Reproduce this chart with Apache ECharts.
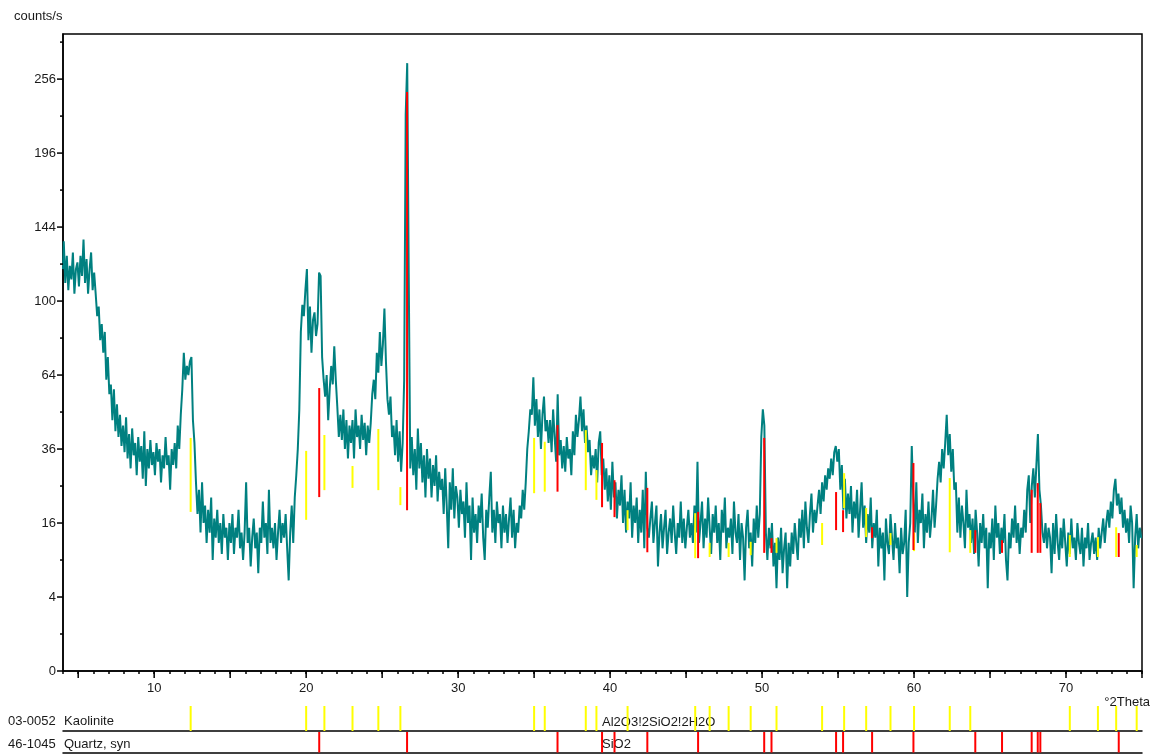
<!DOCTYPE html>
<html>
<head>
<meta charset="utf-8">
<title>XRD pattern</title>
<script src="https://cdn.jsdelivr.net/npm/echarts@6/dist/echarts.min.js"></script>
<style>
  html, body { margin: 0; padding: 0; background: #fff; }
  #chart { width: 1152px; height: 755px; }
</style>
</head>
<body>
<div id="chart"></div>
<script>
// Scan grid (°2Theta): start angle and step size
const scanStart = 4.0;
const scanStep = 0.1;

// Measured intensity, counts/s, one value per step from 4.0 to 75.0 °2Theta
const counts = [
  118,135,110,126,106,120,112,128,104,118,
  122,108,126,114,136,110,124,104,118,128,
  106,116,104,92,97,80,88,74,84,62,
  72,56,60,46,58,42,52,40,48,37,
  44,35,47,33,41,30,43,34,38,28,
  40,32,37,27,42,25,36,30,39,31,
  35,28,38,32,36,26,34,30,40,31,
  34,24,36,31,38,30,44,36,48,58,
  74,62,68,64,70,72,46,38,26,18,
  24,14,26,16,20,12,19,14,22,9,
  17,13,19,12,16,10,18,13,15,9,
  16,12,18,10,15,13,19,11,14,9,
  14,26,12,15,8,13,17,11,14,7,
  15,12,21,13,16,10,24,12,15,11,
  16,9,14,19,12,16,13,18,11,6,
  14,20,12,22,28,36,50,84,98,92,
  106,118,80,97,74,90,94,82,88,116,
  114,72,62,55,64,46,58,68,60,77,
  62,51,40,48,39,50,36,46,33,44,
  38,46,33,50,40,44,36,48,39,45,
  34,44,38,45,56,62,54,74,65,84,
  68,78,96,70,54,48,55,40,44,34,
  46,32,42,29,38,62,226,270,115,30,
  40,28,36,24,43,30,38,26,34,22,
  36,27,33,22,31,25,34,21,29,24,
  27,18,30,20,11,26,19,30,17,25,
  22,15,24,18,21,13,26,16,20,9,
  22,14,18,12,20,16,23,13,9,19,
  15,22,29,14,19,12,21,16,18,11,
  20,14,18,12,17,22,13,19,11,16,
  14,20,17,24,19,26,36,42,50,48,
  63,44,54,40,50,36,48,55,42,46,
  38,46,35,50,40,32,56,34,39,30,
  37,29,40,33,36,28,42,34,48,40,
  46,55,42,50,38,44,35,39,28,34,
  30,36,26,38,42,28,33,24,30,21,
  28,19,32,22,26,17,24,20,28,16,
  24,14,21,17,26,13,20,16,22,12,
  19,14,24,11,29,15,13,17,21,12,
  16,20,8,14,18,11,15,19,10,14,
  17,12,20,14,10,16,13,21,12,17,
  11,15,19,13,16,12,20,14,32,12,
  16,21,11,17,13,22,15,10,18,14,
  20,12,16,9,19,14,22,11,15,13,
  17,10,21,14,12,18,9,16,13,6,
  15,19,11,14,8,17,12,20,13,18,
  40,50,44,14,9,15,11,16,8,12,
  5,13,9,15,7,11,14,5,12,8,
  14,10,16,12,9,17,13,19,11,21,
  15,12,18,23,14,19,16,20,24,18,
  26,21,28,24,30,27,33,28,35,37,
  32,36,24,31,19,27,17,23,18,25,
  14,21,17,24,13,19,26,15,20,12,
  18,14,22,11,16,13,19,8,15,11,
  14,6,17,12,10,18,13,9,16,11,
  13,7,15,10,12,19,4,12,16,37,
  22,14,26,12,19,16,23,11,18,14,
  21,13,17,24,15,20,27,32,26,36,
  30,38,48,34,41,29,36,24,26,14,
  22,13,20,16,11,24,15,18,12,17,
  10,19,14,8,16,12,18,11,15,5,
  14,11,17,9,20,13,16,10,15,12,
  18,9,6,14,11,17,13,20,12,16,
  10,15,13,19,14,24,28,16,25,30,
  22,31,41,24,20,14,12,16,11,15,
  13,7,16,10,18,12,9,15,11,17,
  12,8,14,10,17,11,13,9,16,12,
  10,15,8,13,11,16,9,12,14,10,
  13,9,15,11,14,17,12,16,19,15,
  21,17,24,27,20,23,18,22,15,19,
  14,17,12,20,16,5,13,18,11,15,
  13
];

// Reference pattern 03-0052 Kaolinite: line positions (°2Theta)
const kaoliniteLines = [12.4, 20.0, 21.2, 23.05, 24.75, 26.2, 35.0, 35.7, 38.4, 39.1, 41.15,
  45.6, 46.55, 47.8, 49.25, 50.95, 53.95, 55.4, 56.85, 58.45, 60.0, 62.35, 63.7,
  70.25, 72.1, 73.3, 74.65];
// Reference pattern 46-1045 Quartz, syn: line positions (°2Theta)
const quartzLines = [20.86, 26.64, 36.54, 39.47, 40.29, 42.45, 45.79, 50.14, 50.62, 54.87,
  55.33, 57.24, 59.96, 64.03, 65.79, 67.74, 68.14, 68.31, 73.47];

// Stick markers in the scan: [°2Theta, from counts, to counts]
const kaoliniteSticks = [
  [12.4, 18.5, 39.7], [20.0, 16.7, 35.4], [21.2, 23.9, 40.7], [23.05, 24.5, 30.7],
  [24.75, 23.9, 42.8], [26.2, 20.1, 24.7], [35.0, 23.1, 39.7], [35.7, 23.5, 38.4],
  [38.4, 23.9, 42.4], [39.1, 21.4, 29.5], [41.15, 14.5, 18.9], [45.6, 9.3, 18.2],
  [46.55, 9.5, 12], [47.8, 9.5, 12], [49.25, 9.8, 12.2], [50.95, 10.2, 12.9],
  [53.95, 11.6, 16], [55.4, 19.4, 28.6], [56.85, 13.1, 19.4], [58.45, 11.6, 13.9],
  [60.0, 10.5, 14], [62.35, 10.3, 27.2], [63.7, 10.2, 14.5], [70.25, 9.5, 13.5],
  [72.1, 9.5, 13.1], [73.3, 9.5, 15.1], [74.65, 9.5, 11.6]
];
const quartzSticks = [
  [20.86, 22.1, 58.5], [26.64, 18.9, 245], [36.54, 23.5, 44.2], [39.47, 19.6, 38],
  [40.29, 17.3, 26.6], [42.45, 10.3, 24.5], [45.79, 9.3, 18.5], [50.14, 10.2, 39.7],
  [50.62, 10.2, 12.9], [54.87, 14.5, 23.4], [55.33, 14.1, 18.9], [57.24, 12.9, 15.1],
  [59.96, 10.7, 31.6], [64.03, 10.2, 14.5], [65.79, 10.2, 12.5], [67.74, 10.2, 24],
  [68.14, 10.2, 25.8], [68.31, 10.2, 20.6], [73.47, 9.5, 13.9]
];

// Axis ticks and labels
const xRange = [4, 75];
const xMajorTicks = [5, 10, 15, 20, 25, 30, 35, 40, 45, 50, 55, 60, 65, 70, 75];
const yLabelCounts = [0, 4, 16, 36, 64, 100, 144, 196, 256];
const yTickRoots = [0, 1, 2, 3, 4, 5, 6, 7, 8, 9, 10, 11, 12, 13, 14, 15, 16, 17];
const yTopCounts = 296.5;

const FONT = "'Liberation Sans', Arial, sans-serif";
const TXT = '#1a1a1a';
const FS = 13;

const chart = echarts.init(document.getElementById('chart'), null, { renderer: 'canvas' });

// Intensity axis uses a square-root scale: plot sqrt(counts), label with counts
const scanData = counts.map((c, i) => [+(scanStart + i * scanStep).toFixed(2), Math.sqrt(c)]);

function stickSeries(data, color) {
  return {
    type: 'custom', xAxisIndex: 0, yAxisIndex: 0, clip: false, z: 5,
    data: data,
    renderItem: function (params, api) {
      const x = api.value(0);
      const a = api.coord([x, Math.sqrt(api.value(1))]);
      const b = api.coord([x, Math.sqrt(api.value(2))]);
      return { type: 'line', shape: { x1: a[0], y1: a[1], x2: b[0], y2: b[1] },
               style: { stroke: color, lineWidth: 2 } };
    }
  };
}

function patternSeries(lines, color, idx) {
  return {
    type: 'custom', xAxisIndex: idx, yAxisIndex: idx, clip: false,
    data: lines.map(v => [v]),
    renderItem: function (params, api) {
      const x = api.value(0);
      const a = api.coord([x, 0]);
      const b = api.coord([x, 1]);
      return { type: 'line', shape: { x1: a[0], y1: a[1], x2: b[0], y2: b[1] },
               style: { stroke: color, lineWidth: 2 } };
    }
  };
}

const option = {
  animation: false,
  backgroundColor: '#ffffff',
  grid: [
    { left: 63, top: 34, width: 1079, height: 637, show: true, borderColor: '#000', borderWidth: 1.5, backgroundColor: '#fff' },
    { left: 63, top: 706, width: 1079, height: 25 },
    { left: 63, top: 732, width: 1079, height: 20.5 }
  ],
  xAxis: [
    {
      gridIndex: 0, type: 'value', min: xRange[0], max: xRange[1], interval: 1,
      axisLine: { show: true, lineStyle: { color: '#000', width: 1.5 } },
      axisTick: { show: true, length: 3, lineStyle: { color: '#000', width: 1.5 } },
      splitLine: { show: false },
      axisLabel: {
        margin: 11, color: TXT, fontFamily: FONT, fontSize: FS,
        formatter: v => (v % 10 === 0 ? String(v) : '')
      }
    },
    {
      gridIndex: 1, type: 'value', min: xRange[0], max: xRange[1],
      axisLine: { show: true, onZero: false, lineStyle: { color: '#000', width: 1.5 } },
      axisTick: { show: false }, axisLabel: { show: false }, splitLine: { show: false }
    },
    {
      gridIndex: 2, type: 'value', min: xRange[0], max: xRange[1],
      axisLine: { show: true, onZero: false, lineStyle: { color: '#000', width: 1.5 } },
      axisTick: { show: false }, axisLabel: { show: false }, splitLine: { show: false }
    }
  ],
  yAxis: [
    {
      gridIndex: 0, type: 'value', min: 0, max: Math.sqrt(yTopCounts), interval: 2,
      axisLine: { show: true, lineStyle: { color: '#000', width: 1.5 } },
      axisTick: { show: false },
      splitLine: { show: false },
      axisLabel: {
        margin: 7, color: TXT, fontFamily: FONT, fontSize: FS,
        formatter: function (v) {
          const c = Math.round(v * v);
          return (Math.abs(v - Math.round(v)) < 1e-6 && yLabelCounts.indexOf(c) >= 0) ? String(c) : '';
        }
      }
    },
    { gridIndex: 1, type: 'value', min: 0, max: 1, show: false },
    { gridIndex: 2, type: 'value', min: 0, max: 1, show: false }
  ],
  series: [
    {
      type: 'line', xAxisIndex: 0, yAxisIndex: 0, data: scanData,
      showSymbol: false, symbol: 'none', z: 3, step: 'middle',
      lineStyle: { color: '#008080', width: 2 }
    },
    stickSeries(kaoliniteSticks, '#ffff00'),
    stickSeries(quartzSticks, '#ff0000'),
    // long x ticks every 5 °2Theta
    {
      type: 'custom', xAxisIndex: 0, yAxisIndex: 0, clip: false, z: 6,
      data: xMajorTicks.map(v => [v]),
      renderItem: function (params, api) {
        const p = api.coord([api.value(0), 0]);
        return { type: 'line', shape: { x1: p[0], y1: p[1], x2: p[0], y2: p[1] + 7 },
                 style: { stroke: '#000', lineWidth: 1.5 } };
      }
    },
    // y ticks: long on labelled values, short between
    {
      type: 'custom', xAxisIndex: 0, yAxisIndex: 0, clip: false, z: 6,
      data: yTickRoots.map(v => [xRange[0], v]),
      renderItem: function (params, api) {
        const r = api.value(1);
        const p = api.coord([xRange[0], r]);
        const len = (r % 2 === 0) ? 6 : 3;
        return { type: 'line', shape: { x1: p[0] - len, y1: p[1], x2: p[0], y2: p[1] },
                 style: { stroke: '#000', lineWidth: 1.5 } };
      }
    },
    patternSeries(kaoliniteLines, '#ffff00', 1),
    patternSeries(quartzLines, '#ff0000', 2)
  ],
  graphic: [
    { type: 'text', left: 14, top: 10, style: { text: 'counts/s', fill: TXT, font: FS + 'px ' + FONT } },
    { type: 'text', right: 2, top: 696, style: { text: '°2Theta', fill: TXT, font: FS + 'px ' + FONT } },
    { type: 'text', left: 8, top: 715, style: { text: '03-0052', fill: TXT, font: FS + 'px ' + FONT } },
    { type: 'text', left: 64, top: 715, style: { text: 'Kaolinite', fill: TXT, font: FS + 'px ' + FONT } },
    { type: 'text', left: 602, top: 716, style: { text: 'Al2O3!2SiO2!2H2O', fill: TXT, font: FS + 'px ' + FONT } },
    { type: 'text', left: 8, top: 738, style: { text: '46-1045', fill: TXT, font: FS + 'px ' + FONT } },
    { type: 'text', left: 64, top: 738, style: { text: 'Quartz, syn', fill: TXT, font: FS + 'px ' + FONT } },
    { type: 'text', left: 602, top: 738, style: { text: 'SiO2', fill: TXT, font: FS + 'px ' + FONT } }
  ]
};

chart.setOption(option);
</script>
</body>
</html>
